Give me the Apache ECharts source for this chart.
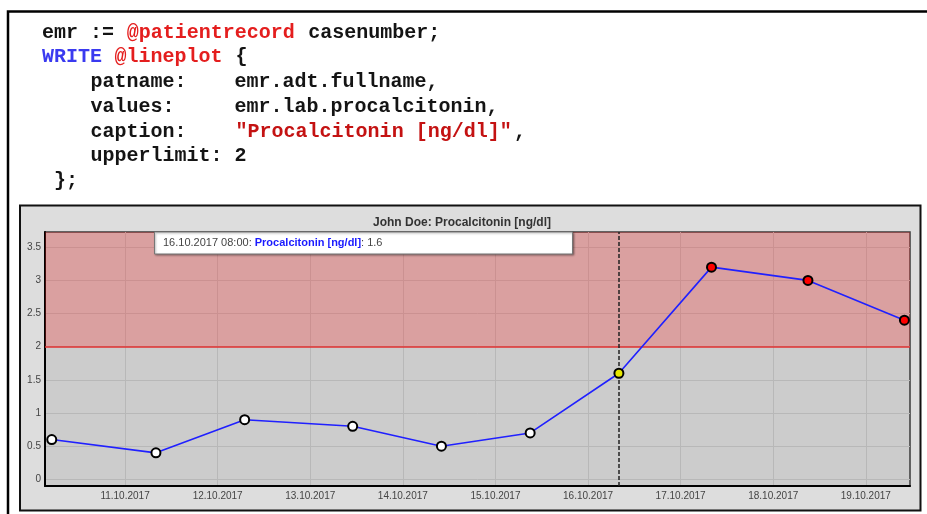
<!DOCTYPE html>
<html>
<head>
<meta charset="utf-8">
<script src="https://cdn.jsdelivr.net/npm/echarts@6/dist/echarts.min.js"></script>
<style>
html,body{margin:0;padding:0;background:#fff;}
#c{width:927px;height:514px;}
</style>
</head>
<body>
<div id="c"></div>
<script>
// ---- data ----
const times = ['2017-10-10 05:00','2017-10-11 08:00','2017-10-12 07:00','2017-10-13 11:00','2017-10-14 10:00',
               '2017-10-15 09:00','2017-10-16 08:00','2017-10-17 08:00','2017-10-18 09:00','2017-10-19 10:00'];
const values = [0.6, 0.4, 0.9, 0.8, 0.5, 0.7, 1.6, 3.2, 3.0, 2.4];
const upperLimit = 2;
const selectedIndex = 6;
const xTicks = ['2017-10-11','2017-10-12','2017-10-13','2017-10-14','2017-10-15','2017-10-16','2017-10-17','2017-10-18','2017-10-19'];
const yTicks = [0, 0.5, 1, 1.5, 2, 2.5, 3, 3.5];
const title = 'John Doe: Procalcitonin [ng/dl]';
const seriesName = 'Procalcitonin [ng/dl]';
const codeLines = [
  [['d','emr := '],['r','@patientrecord'],['d',' casenumber;']],
  [['b','WRITE'],['d',' '],['r','@lineplot'],['d',' {']],
  [['d','    patname:    emr.adt.fullname,']],
  [['d','    values:     emr.lab.procalcitonin,']],
  [['d','    caption:    '],['s','"Procalcitonin [ng/dl]"'],['d',',']],
  [['d','    upperlimit: 2']],
  [['d',' };']]
];
const codeColors = { d: '#141414', r: '#e41e1e', b: '#3a3af0', s: '#c41212' };

function parse(s){
  const m = s.match(/(\d+)-(\d+)-(\d+)(?: (\d+):(\d+))?/);
  return new Date(+m[1], +m[2]-1, +m[3], +(m[4]||0), +(m[5]||0)).getTime();
}
function pad(n){ return (n<10?'0':'')+n; }
function fmtDate(v){ const d=new Date(v); return pad(d.getDate())+'.'+pad(d.getMonth()+1)+'.'+d.getFullYear(); }
function fmtDateTime(v){ const d=new Date(v); return fmtDate(v)+' '+pad(d.getHours())+':'+pad(d.getMinutes()); }

const xTickVals = xTicks.map(s => parse(s));
const seriesData = times.map((t,i) => {
  let fill = '#ffffff';
  if (values[i] > upperLimit) fill = '#ff0000';
  if (i === selectedIndex) fill = '#e6e600';
  return { value: [parse(t), values[i]], itemStyle: { color: fill } };
});

const chart = echarts.init(document.getElementById('c'), null, {renderer:'canvas'});

const CW = 12.1;
const codeGraphics = [];
codeLines.forEach((parts, i) => {
  let col = 0;
  parts.forEach(p => {
    const lead = p[1].match(/^ */)[0].length;
    const txt = p[1].slice(lead);
    col += lead;
    if (txt.length) {
      codeGraphics.push({
        type: 'text', z: 10,
        x: 42 + col * CW, y: 32.5 + i * 24.75,
        style: { text: txt, fill: codeColors[p[0]], font: 'bold 20px "Liberation Mono"',
                 textVerticalAlign: 'middle', verticalAlign: 'middle' }
      });
    }
    col += txt.length;
  });
});

const selTime = parse(times[selectedIndex]);
const tooltipText = '{g|' + fmtDateTime(selTime) + ': }{bl|' + seriesName + '}{g|: ' + values[selectedIndex] + '}';

chart.setOption({
  animation: false,
  backgroundColor: '#ffffff',
  graphic: [
    { type: 'polyline', z: -20, shape: { points: [[8, 514],[8, 11.5],[927, 11.5]] },
      style: { stroke: '#000', lineWidth: 2.5, fill: null } },
    { type: 'rect', z: -10, shape: { x: 20, y: 205.5, width: 900.5, height: 305 },
      style: { fill: '#dddddd', stroke: '#111', lineWidth: 2 } },
    ...codeGraphics,
    { type: 'rect', z: 100, shape: { x: 154.5, y: 232, width: 418, height: 22 },
      style: { fill: '#ffffff', stroke: '#777', lineWidth: 1, shadowBlur: 2, shadowOffsetX: 1, shadowOffsetY: 1, shadowColor: 'rgba(0,0,0,0.35)' } },
    { type: 'text', z: 101, left: 163, top: 237,
      style: { text: tooltipText,
        rich: {
          g: { fill: '#444', font: '11px "Liberation Sans", Arial' },
          bl: { fill: '#1a1aff', font: 'bold 11px "Liberation Sans", Arial' }
        } } }
  ],
  title: {
    text: title, left: 457, top: 212, textAlign: 'center',
    textStyle: { fontFamily: '"Liberation Sans", Arial', fontSize: 12, fontWeight: 'bold', color: '#333' }
  },
  grid: {
    left: 45, top: 232, right: 17, bottom: 28,
    show: true, backgroundColor: '#cccccc', borderColor: '#3a3a3a', borderWidth: 1.5
  },
  xAxis: {
    type: 'value',
    min: parse('2017-10-10 03:15'), max: parse('2017-10-19 11:27'),
    axisLine: { show: true, onZero: false, lineStyle: { color: '#000', width: 2 } },
    axisTick: { show: false, customValues: xTickVals },
    axisLabel: { customValues: xTickVals, formatter: v => fmtDate(v), color: '#444', fontSize: 10,
      fontFamily: '"Liberation Sans", Arial', margin: 5, hideOverlap: false },
    splitLine: { show: true, lineStyle: { color: '#b8b8b8', width: 1 } }
  },
  yAxis: {
    type: 'value', min: -0.1, max: 3.73,
    axisLine: { show: true, onZero: false, lineStyle: { color: '#000', width: 2 } },
    axisTick: { show: false, customValues: yTicks },
    axisLabel: { customValues: yTicks, color: '#444', fontSize: 10, fontFamily: '"Liberation Sans", Arial', margin: 4 },
    splitLine: { show: true, lineStyle: { color: '#b8b8b8', width: 1 } }
  },
  series: [{
    type: 'line',
    name: seriesName,
    data: seriesData,
    symbol: 'circle', symbolSize: 9,
    itemStyle: { borderColor: '#000', borderWidth: 2 },
    lineStyle: { color: '#2020ff', width: 1.6 },
    z: 5,
    markArea: {
      silent: true,
      itemStyle: { color: 'rgba(255,40,40,0.27)' },
      data: [[{ yAxis: upperLimit }, { yAxis: 3.73 }]]
    },
    markLine: {
      silent: true, symbol: 'none', label: { show: false },
      data: [
        { yAxis: upperLimit, lineStyle: { color: '#e03030', width: 1.5, type: 'solid' } },
        { xAxis: selTime, lineStyle: { color: '#222', width: 1.5, type: [4, 2] } }
      ]
    }
  }]
});
</script>
</body>
</html>
